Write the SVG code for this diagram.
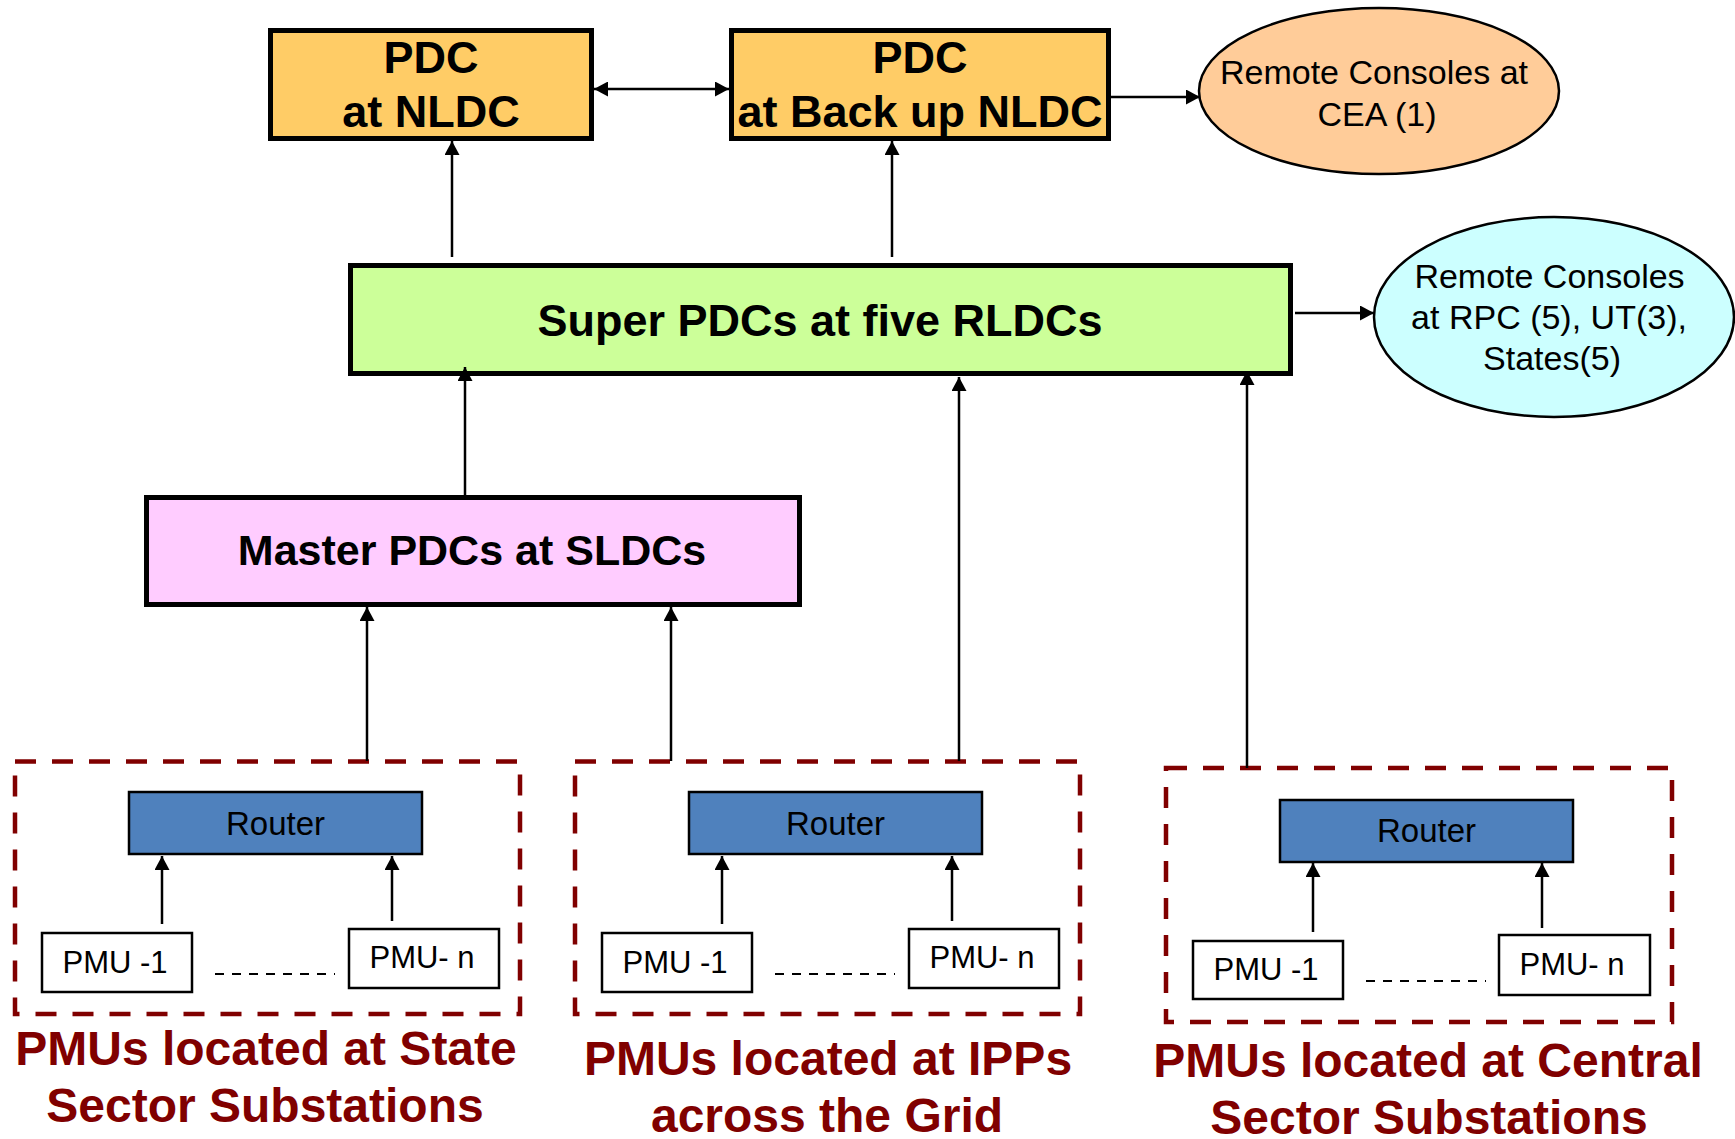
<svg xmlns="http://www.w3.org/2000/svg" width="1735" height="1139" viewBox="0 0 1735 1139">
<defs>
<marker id="ah" viewBox="0 0 14 15" refX="14" refY="7.5" markerWidth="14" markerHeight="15" markerUnits="userSpaceOnUse" orient="auto-start-reverse">
<path d="M0,0 L14,7.5 L0,15 Z" fill="#000"/>
</marker>
<style>
.pdc{fill:#FFCC66;stroke:#000;stroke-width:5}
.bt{font-family:"Liberation Sans",Arial,sans-serif;font-weight:bold;fill:#000;text-anchor:middle}
.nt{font-family:"Liberation Sans",Arial,sans-serif;fill:#000;text-anchor:middle}
.lbl{font-family:"Liberation Sans",Arial,sans-serif;font-weight:bold;fill:#800000;text-anchor:middle;font-size:48px}
.grp{fill:none;stroke:#800000;stroke-width:4.5;stroke-dasharray:21 16}
.router{fill:#4F81BD;stroke:#000;stroke-width:2.5}
.pmu{fill:#fff;stroke:#000;stroke-width:2.5}
.dots{stroke:#000;stroke-width:2;stroke-dasharray:9 8}
.c{stroke:#000;stroke-width:2.5;fill:none;marker-end:url(#ah)}
</style>
</defs>
<rect width="1735" height="1139" fill="#fff"/>

<g id="pdc-nldc">
<rect class="pdc" x="270.5" y="30.5" width="321" height="108"/>
<text class="bt" x="431" y="73" font-size="45">PDC</text>
<text class="bt" x="431" y="127" font-size="45">at NLDC</text>
</g>
<g id="pdc-backup">
<rect class="pdc" x="731.5" y="30.5" width="377" height="108"/>
<text class="bt" x="920" y="73" font-size="45">PDC</text>
<text class="bt" x="920" y="127" font-size="45">at Back up NLDC</text>
</g>
<g id="cea">
<ellipse cx="1379" cy="91" rx="180" ry="83" fill="#FFCC99" stroke="#000" stroke-width="2.5"/>
<text class="nt" x="1374" y="84" font-size="34">Remote Consoles at</text>
<text class="nt" x="1377" y="126" font-size="34">CEA (1)</text>
</g>
<g id="super">
<rect x="350.5" y="265.5" width="940" height="108" fill="#CCFF99" stroke="#000" stroke-width="5"/>
<text class="bt" x="820" y="336" font-size="45">Super PDCs at five RLDCs</text>
</g>
<g id="rpc">
<ellipse cx="1554" cy="317" rx="180" ry="100" fill="#CCFFFF" stroke="#000" stroke-width="2.5"/>
<text class="nt" x="1549.5" y="288" font-size="34">Remote Consoles</text>
<text class="nt" x="1549" y="329" font-size="34">at RPC (5), UT(3),</text>
<text class="nt" x="1552" y="370" font-size="34">States(5)</text>
</g>
<g id="master">
<rect x="146.5" y="497.5" width="653" height="107" fill="#FFCCFF" stroke="#000" stroke-width="5"/>
<text class="bt" x="472" y="565" font-size="43">Master PDCs at SLDCs</text>
</g>

<g id="state-group">
<rect class="grp" x="15" y="761.5" width="505" height="252.5"/>
<rect class="router" x="129" y="792" width="293" height="62"/>
<text class="nt" x="275.5" y="835" font-size="33">Router</text>
<rect class="pmu" x="42" y="933" width="150" height="59"/>
<text class="nt" x="115" y="973" font-size="31">PMU -1</text>
<rect class="pmu" x="349" y="929" width="150" height="59"/>
<text class="nt" x="422" y="968" font-size="31">PMU- n</text>
<line class="dots" x1="215" y1="974" x2="335" y2="974"/>
<text class="lbl" x="266" y="1065">PMUs located at State</text>
<text class="lbl" x="265" y="1122">Sector Substations</text>
</g>
<g id="ipp-group">
<rect class="grp" x="575" y="761.5" width="505" height="252.5"/>
<rect class="router" x="689" y="792" width="293" height="62"/>
<text class="nt" x="835.5" y="835" font-size="33">Router</text>
<rect class="pmu" x="602" y="933" width="150" height="59"/>
<text class="nt" x="675" y="973" font-size="31">PMU -1</text>
<rect class="pmu" x="909" y="929" width="150" height="59"/>
<text class="nt" x="982" y="968" font-size="31">PMU- n</text>
<line class="dots" x1="775" y1="974" x2="895" y2="974"/>
<text class="lbl" x="828" y="1075">PMUs located at IPPs</text>
<text class="lbl" x="827" y="1132">across the Grid</text>
</g>
<g id="central-group">
<rect class="grp" x="1166" y="768" width="506" height="254"/>
<rect class="router" x="1280" y="800" width="293" height="62"/>
<text class="nt" x="1426.5" y="842" font-size="33">Router</text>
<rect class="pmu" x="1193" y="941" width="150" height="58"/>
<text class="nt" x="1266" y="980" font-size="31">PMU -1</text>
<rect class="pmu" x="1499" y="935" width="151" height="60"/>
<text class="nt" x="1572" y="975" font-size="31">PMU- n</text>
<line class="dots" x1="1366" y1="981" x2="1486" y2="981"/>
<text class="lbl" x="1428" y="1077">PMUs located at Central</text>
<text class="lbl" x="1429" y="1134">Sector Substations</text>
</g>

<g id="connectors">
<line class="c" x1="594" y1="89" x2="729" y2="89" marker-start="url(#ah)"/>
<line class="c" x1="1111" y1="97" x2="1200" y2="97"/>
<line class="c" x1="452" y1="257" x2="452" y2="141"/>
<line class="c" x1="892" y1="257" x2="892" y2="141"/>
<line class="c" x1="1295" y1="313" x2="1374" y2="313"/>
<line class="c" x1="465" y1="495" x2="465" y2="367"/>
<line class="c" x1="367" y1="761" x2="367" y2="607"/>
<line class="c" x1="671" y1="761" x2="671" y2="607"/>
<line class="c" x1="959" y1="761" x2="959" y2="377"/>
<line class="c" x1="1247" y1="768" x2="1247" y2="371"/>
<line class="c" x1="162" y1="924" x2="162" y2="856"/>
<line class="c" x1="392" y1="921" x2="392" y2="856"/>
<line class="c" x1="722" y1="924" x2="722" y2="856"/>
<line class="c" x1="952" y1="921" x2="952" y2="856"/>
<line class="c" x1="1313" y1="932" x2="1313" y2="863"/>
<line class="c" x1="1542" y1="928" x2="1542" y2="863"/>
</g>
</svg>
